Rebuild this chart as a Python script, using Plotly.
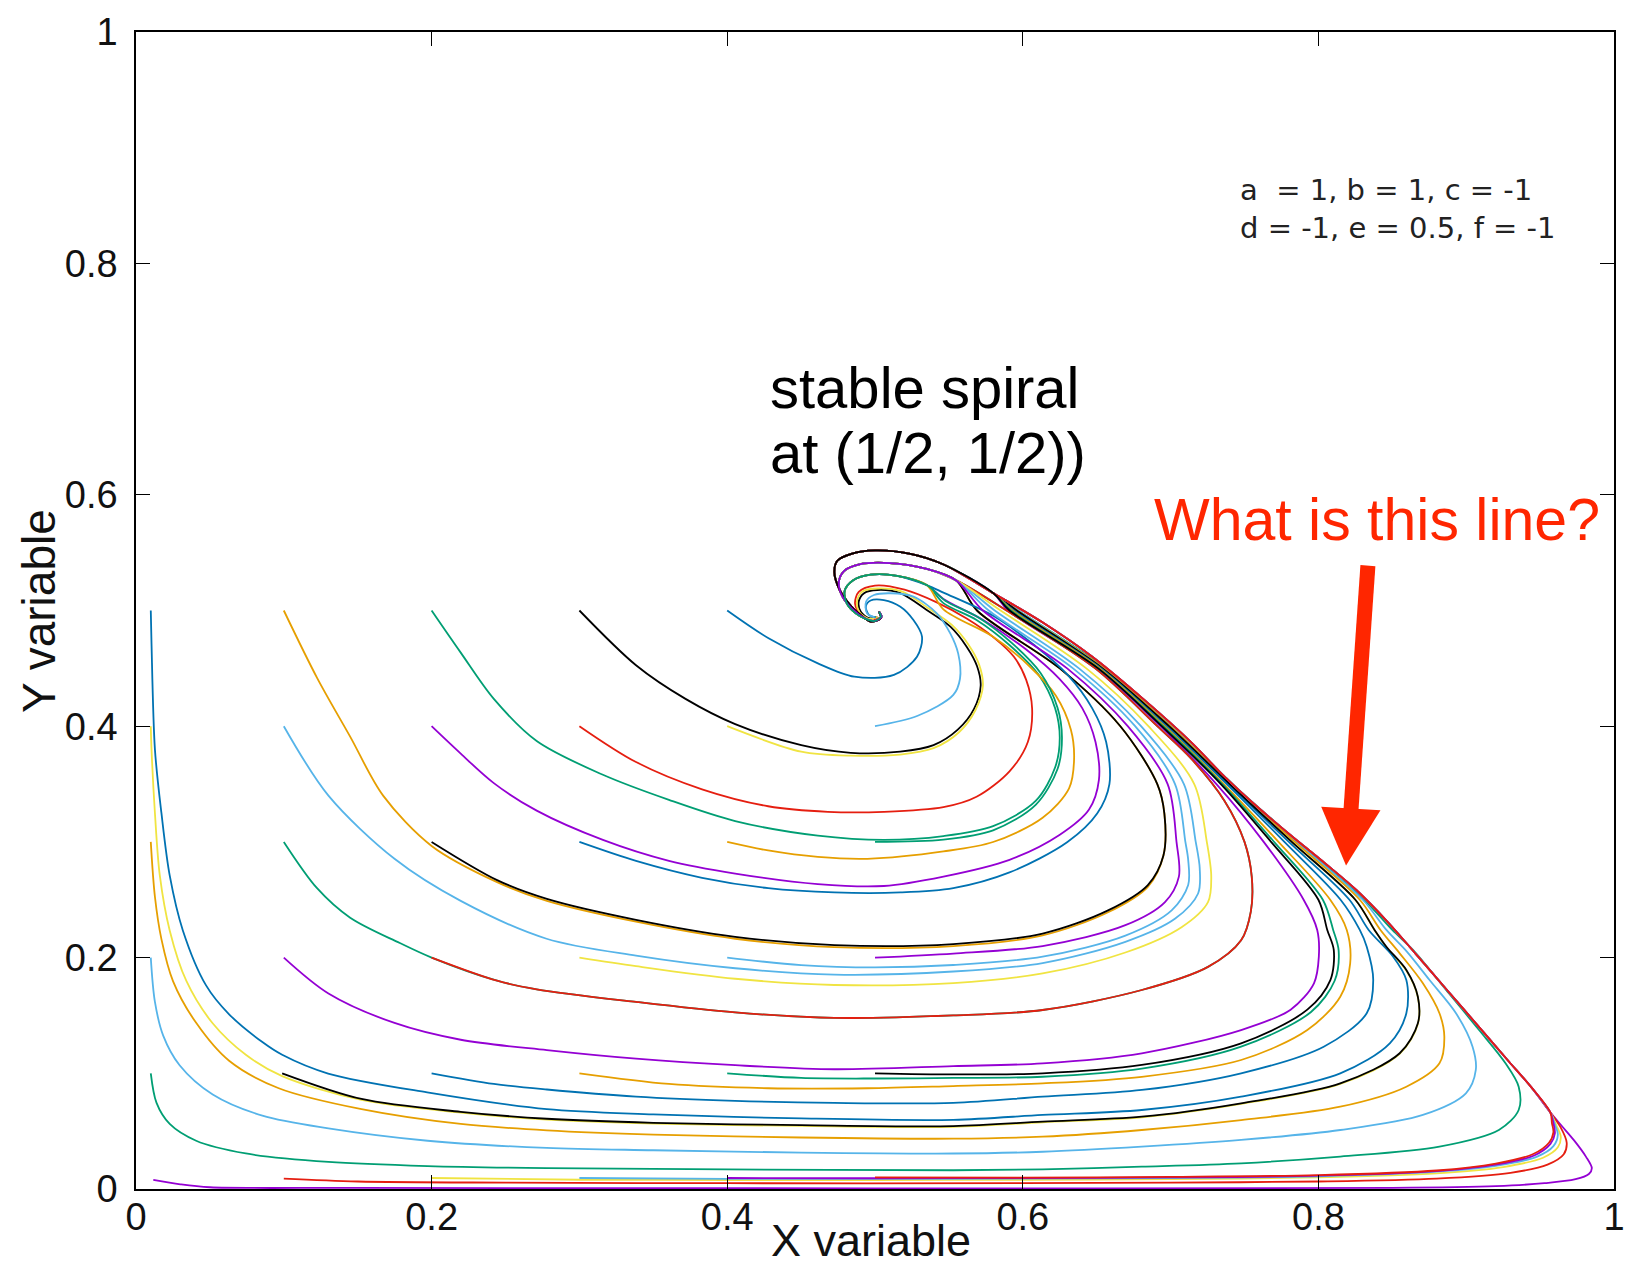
import plotly.graph_objects as go

# ---------------- colours (gnuplot default line types) ----------------
PURPLE = '#9400D3'; GREEN = '#009E73'; LBLUE = '#56B4E9'; ORANGE = '#E69F00'
YELLOW = '#F0E442'; BLUE = '#0072B2'; RED = '#E51E10'; BLACK = '#000000'

# ---------------- axis ticks ----------------
tick_vals = [0, 0.2, 0.4, 0.6, 0.8, 1.0]
tick_text = ['0', '0.2', '0.4', '0.6', '0.8', '1']

# ---------------- shared end pieces ----------------
# outer edge of the bundle running up the hypotenuse ("What is this line?")
cp_x = [0.957, 0.944, 0.929, 0.908, 0.887, 0.866, 0.846, 0.826, 0.804, 0.781, 0.758, 0.736, 0.714, 0.681, 0.647, 0.613]
cp_y = [0.066, 0.088, 0.110, 0.141, 0.172, 0.203, 0.232, 0.258, 0.282, 0.306, 0.331, 0.357, 0.386, 0.424, 0.460, 0.490]
# spiral endings
tailA_x = [0.580, 0.546, 0.524, 0.500, 0.484, 0.4745, 0.4725, 0.476, 0.483, 0.490, 0.497, 0.504, 0.5027]
tailA_y = [0.515, 0.540, 0.549, 0.552, 0.549, 0.543, 0.533, 0.518, 0.505, 0.4965, 0.4905, 0.4935, 0.499]
tailB_x = [0.555, 0.535, 0.510, 0.490, 0.479, 0.4755, 0.478, 0.485, 0.493, 0.500, 0.5045, 0.5027]
tailB_y = [0.526, 0.536, 0.541, 0.540, 0.534, 0.524, 0.512, 0.501, 0.4935, 0.491, 0.4945, 0.499]
tailC_x = [0.535, 0.515, 0.497, 0.485, 0.4795, 0.481, 0.487, 0.494, 0.500, 0.504, 0.5027]
tailC_y = [0.522, 0.530, 0.531, 0.526, 0.517, 0.506, 0.4975, 0.4925, 0.491, 0.4948, 0.499]

# ---------------- trajectories: start x0 = 0.01 ----------------
t001_001_x = [0.0117, 0.030, 0.050, 0.150, 0.500, 0.850, 0.920, 0.953, 0.974, 0.983, 0.985, 0.981, 0.973, 0.965]
t001_001_y = [0.0078, 0.004, 0.0015, 0.001, 0.0006, 0.001, 0.0025, 0.005, 0.0085, 0.013, 0.018, 0.028, 0.042, 0.054]
t001_01_x = [0.01, 0.0139, 0.0228, 0.0407, 0.0743, 0.1302, 0.1973, 0.2778, 0.4, 0.553, 0.6134, 0.6805, 0.7477, 0.8148,
             0.8819, 0.9221, 0.9355, 0.9355, 0.9266, 0.9087, 0.8864, 0.864, 0.850, 0.831, 0.786, 0.742, 0.702, 0.656, 0.597]
t001_01_y = [0.1, 0.0744, 0.0562, 0.0417, 0.0307, 0.0234, 0.0198, 0.018, 0.017, 0.0162, 0.017, 0.0193, 0.0222, 0.028,
             0.0366, 0.051, 0.0683, 0.0884, 0.1086, 0.1374, 0.172, 0.2066, 0.2239, 0.25, 0.30, 0.35, 0.40, 0.45, 0.50]
t001_02_x = [0.01, 0.0128, 0.0184, 0.0295, 0.0519, 0.0855, 0.1302, 0.1973, 0.2778, 0.35, 0.45, 0.553, 0.6134, 0.6805,
             0.7477, 0.8148, 0.8707, 0.8998, 0.9065, 0.9043, 0.8931, 0.8752, 0.86, 0.846, 0.830, 0.785, 0.741, 0.701, 0.655, 0.597]
t001_02_y = [0.2, 0.1617, 0.1326, 0.107, 0.0817, 0.0634, 0.0524, 0.0417, 0.0355, 0.0335, 0.0315, 0.0307, 0.0322, 0.0366,
             0.0424, 0.051, 0.064, 0.0827, 0.1029, 0.123, 0.1519, 0.1806, 0.205, 0.2239, 0.25, 0.30, 0.35, 0.40, 0.45, 0.50]
t001_03_x = [0.01, 0.0128, 0.0172, 0.0251, 0.0407, 0.063, 0.0966, 0.1526, 0.2197, 0.278, 0.35, 0.45, 0.553, 0.6134,
             0.6805, 0.7477, 0.8148, 0.8595, 0.8819, 0.8852, 0.8819, 0.8707, 0.855, 0.842, 0.828, 0.784, 0.741, 0.700, 0.655, 0.596]
t001_03_y = [0.3, 0.2526, 0.216, 0.1795, 0.1436, 0.1108, 0.0871, 0.069, 0.0562, 0.0507, 0.047, 0.0445, 0.0435, 0.0452,
             0.051, 0.0596, 0.0711, 0.0884, 0.1086, 0.1316, 0.1519, 0.1778, 0.2037, 0.2239, 0.25, 0.30, 0.35, 0.40, 0.45, 0.50]
t001_04_x = [0.01, 0.0105, 0.0128, 0.0161, 0.0228, 0.034, 0.052, 0.0743, 0.0989, 0.1526, 0.2197, 0.278, 0.35, 0.45, 0.553,
             0.6134, 0.6805, 0.7477, 0.8148, 0.855, 0.8673, 0.8673, 0.8595, 0.846, 0.838, 0.825, 0.782, 0.740, 0.699, 0.654, 0.596]
t001_04_y = [0.4, 0.38, 0.325, 0.271, 0.2235, 0.18, 0.143, 0.116, 0.0975, 0.077, 0.066, 0.060, 0.0565, 0.0545, 0.0538,
             0.0577, 0.062, 0.0736, 0.0908, 0.1168, 0.1427, 0.1657, 0.1888, 0.2089, 0.2239, 0.25, 0.30, 0.35, 0.40, 0.45, 0.50]
t001_05_x = [0.01, 0.0105, 0.0128, 0.0172, 0.0228, 0.0317, 0.0474, 0.063, 0.0855, 0.0989, 0.130, 0.197, 0.278, 0.35, 0.45,
             0.553, 0.6134, 0.6805, 0.7477, 0.8148, 0.8483, 0.8595, 0.8595, 0.8506, 0.834, 0.821, 0.780, 0.739, 0.698, 0.653, 0.595]
t001_05_y = [0.5, 0.471, 0.38, 0.325, 0.271, 0.2235, 0.176, 0.151, 0.127, 0.116, 0.0998, 0.0835, 0.069, 0.0645, 0.061,
             0.0598, 0.064, 0.0683, 0.0798, 0.100, 0.1259, 0.1519, 0.1806, 0.2008, 0.2239, 0.25, 0.30, 0.35, 0.40, 0.45, 0.50]

# ---------------- x0 = 0.1 ----------------
t01_001_x = [0.1, 0.15, 0.25, 0.4, 0.6, 0.7, 0.8, 0.88, 0.93, 0.955, 0.966, 0.968, 0.964]
t01_001_y = [0.009, 0.0065, 0.0055, 0.005, 0.005, 0.0055, 0.0065, 0.009, 0.014, 0.021, 0.030, 0.040, 0.053]
t01_01_x = [0.0989, 0.1526, 0.2197, 0.278, 0.35, 0.45, 0.553, 0.6134, 0.6805, 0.7477, 0.8148, 0.855, 0.8673, 0.8673,
            0.8595, 0.846, 0.838, 0.825, 0.782, 0.740, 0.699, 0.654, 0.596]
t01_01_y = [0.1, 0.0778, 0.0667, 0.0607, 0.0572, 0.0552, 0.0544, 0.0582, 0.0625, 0.0741, 0.0913, 0.1173, 0.1432, 0.1662,
            0.1893, 0.2094, 0.2239, 0.25, 0.30, 0.35, 0.40, 0.45, 0.50]
t01_02_x = [0.1, 0.1302, 0.1749, 0.2197, 0.278, 0.3383, 0.4054, 0.4725, 0.553, 0.6134, 0.6805, 0.7477, 0.7812, 0.797,
            0.8003, 0.7992, 0.790, 0.763, 0.731, 0.693, 0.650, 0.590]
t01_02_y = [0.2, 0.169, 0.1435, 0.129, 0.12, 0.1126, 0.107, 0.1035, 0.1062, 0.1086, 0.1173, 0.1374, 0.155, 0.1778,
            0.2008, 0.2239, 0.25, 0.30, 0.35, 0.40, 0.45, 0.50]
t01_03_x = [0.1, 0.1225, 0.1449, 0.1785, 0.2, 0.2443, 0.2711, 0.3383, 0.4054, 0.4725, 0.553, 0.6134, 0.6805, 0.7253,
            0.7477, 0.7543, 0.7549, 0.750, 0.7365, 0.7141, 0.691, 0.649, 0.589]
t01_03_y = [0.3, 0.26, 0.2345, 0.2126, 0.2, 0.18, 0.1726, 0.1617, 0.1526, 0.1479, 0.150, 0.1547, 0.172, 0.192,
            0.215, 0.24, 0.27, 0.30, 0.3354, 0.3717, 0.40, 0.45, 0.50]
t01_04_x = [0.1, 0.1302, 0.1749, 0.2197, 0.2778, 0.3383, 0.4054, 0.4725, 0.553, 0.6134, 0.6694, 0.7029, 0.7186, 0.7197,
            0.717, 0.709, 0.680, 0.638, 0.581]
t01_04_y = [0.4, 0.34, 0.2854, 0.249, 0.2163, 0.2017, 0.1908, 0.1853, 0.188, 0.1953, 0.2136, 0.2335, 0.2554, 0.2772,
            0.30, 0.35, 0.40, 0.45, 0.50]
t01_05_x = [0.1, 0.1225, 0.1449, 0.1672, 0.2, 0.2443, 0.278, 0.3383, 0.4054, 0.4725, 0.553, 0.6134, 0.6577, 0.6846,
            0.6951, 0.6958, 0.691, 0.666, 0.625, 0.569]
t01_05_y = [0.5, 0.4418, 0.391, 0.34, 0.2965, 0.2652, 0.249, 0.231, 0.2163, 0.209, 0.21, 0.2192, 0.2392, 0.2612,
            0.288, 0.3245, 0.35, 0.40, 0.45, 0.50]

# ---------------- x0 = 0.2 ----------------
t02_001_x = [0.2, 0.3, 0.4, 0.5, 0.6, 0.7, 0.8, 0.88, 0.925, 0.952, 0.962, 0.964, 0.961]
t02_001_y = [0.0095, 0.008, 0.0078, 0.0078, 0.008, 0.0085, 0.010, 0.0135, 0.019, 0.027, 0.036, 0.045, 0.055]
t02_01_x = [0.2, 0.2421, 0.278, 0.3383, 0.4054, 0.4725, 0.553, 0.6134, 0.6805, 0.7477, 0.8036, 0.8327, 0.8371, 0.8327,
            0.828, 0.815, 0.777, 0.738, 0.697, 0.653, 0.594]
t02_01_y = [0.1, 0.0908, 0.086, 0.0799, 0.0762, 0.0744, 0.0744, 0.0798, 0.0856, 0.1, 0.123, 0.1519, 0.1806, 0.2094,
            0.2239, 0.25, 0.30, 0.35, 0.40, 0.45, 0.50]
t02_02_x = [0.2, 0.2443, 0.2711, 0.3383, 0.4054, 0.4725, 0.553, 0.6134, 0.6805, 0.7253, 0.7477, 0.7543, 0.7549, 0.750,
            0.7365, 0.7141, 0.691, 0.649, 0.589]
t02_02_y = [0.2, 0.18, 0.1726, 0.1617, 0.1526, 0.1479, 0.150, 0.1547, 0.172, 0.192, 0.215, 0.24, 0.27, 0.30,
            0.3354, 0.3717, 0.40, 0.45, 0.50]
t02_03_x = [0.2, 0.2443, 0.278, 0.3383, 0.4054, 0.4725, 0.553, 0.6134, 0.6577, 0.6846, 0.6951, 0.6958, 0.691, 0.666,
            0.625, 0.569]
t02_03_y = [0.3, 0.267, 0.2508, 0.2327, 0.218, 0.2108, 0.2117, 0.2208, 0.2408, 0.2627, 0.288, 0.3245, 0.35, 0.40,
            0.45, 0.50]
t02_04_x = [0.2, 0.2197, 0.2421, 0.2711, 0.3159, 0.3606, 0.4054, 0.4613, 0.506, 0.5463, 0.591, 0.6248, 0.6448, 0.6515,
            0.6492, 0.6403, 0.6248, 0.6023, 0.5732, 0.5463]
t02_04_y = [0.4, 0.3763, 0.3508, 0.327, 0.3017, 0.2836, 0.2726, 0.2635, 0.2619, 0.27, 0.2845, 0.306, 0.328, 0.3536,
            0.3863, 0.4154, 0.4409, 0.4663, 0.4918, 0.51]
t02_05_x = [0.2, 0.2197, 0.2421, 0.2711, 0.3159, 0.3606, 0.4054, 0.4613, 0.506, 0.5463, 0.5799, 0.6087, 0.6219, 0.625,
            0.6219, 0.6107, 0.5911, 0.5687, 0.5463]
t02_05_y = [0.5, 0.4636, 0.4236, 0.3872, 0.358, 0.3363, 0.318, 0.3054, 0.3017, 0.305, 0.3136, 0.3354, 0.3645, 0.39,
            0.4154, 0.4445, 0.47, 0.4918, 0.5064]

# ---------------- x0 = 0.3 ----------------
t03_001_x = [0.3, 0.4, 0.5, 0.6, 0.7, 0.8, 0.88, 0.92, 0.948, 0.959, 0.962, 0.960]
t03_001_y = [0.0095, 0.0088, 0.0088, 0.009, 0.0095, 0.011, 0.015, 0.020, 0.028, 0.037, 0.047, 0.056]
t03_01_x = [0.3, 0.3606, 0.4277, 0.4949, 0.553, 0.6134, 0.6805, 0.7477, 0.7925, 0.8148, 0.8215, 0.8192, 0.808, 0.773,
            0.736, 0.696, 0.652, 0.593]
t03_01_y = [0.1, 0.0908, 0.0871, 0.0871, 0.089, 0.0913, 0.097, 0.1115, 0.1374, 0.1662, 0.195, 0.2239, 0.25, 0.30,
            0.35, 0.40, 0.45, 0.50]
t03_02_x = [0.3, 0.3383, 0.4054, 0.4725, 0.553, 0.6134, 0.6694, 0.7074, 0.7253, 0.7275, 0.7245, 0.716, 0.685, 0.643, 0.585]
t03_02_y = [0.2, 0.1926, 0.1817, 0.1763, 0.178, 0.1863, 0.2044, 0.2263, 0.248, 0.27, 0.30, 0.35, 0.40, 0.45, 0.50]
t03_03_x = [0.3, 0.3383, 0.383, 0.4277, 0.4725, 0.5172, 0.553, 0.591, 0.6302, 0.6503, 0.6586, 0.6564, 0.647, 0.6302,
            0.6079, 0.5799, 0.5463]
t03_03_y = [0.3, 0.2836, 0.269, 0.26, 0.2563, 0.2563, 0.26, 0.2736, 0.2999, 0.3245, 0.35, 0.3863, 0.4154, 0.4445,
            0.47, 0.4954, 0.5155]
t03_04_x = [0.3, 0.3383, 0.383, 0.4277, 0.4681, 0.506, 0.5463, 0.5687, 0.591, 0.6034, 0.6063, 0.6023, 0.594, 0.58,
            0.562, 0.5418, 0.52, 0.50, 0.489, 0.4865, 0.4905, 0.4975, 0.5035]
t03_04_y = [0.4, 0.369, 0.3454, 0.3308, 0.326, 0.326, 0.33, 0.339, 0.361, 0.3863, 0.4154, 0.44, 0.46, 0.477,
            0.493, 0.507, 0.518, 0.5215, 0.516, 0.506, 0.4965, 0.4915, 0.494]
t03_05_x = [0.3, 0.3383, 0.3718, 0.4054, 0.4501, 0.4836, 0.517, 0.5396, 0.556, 0.567, 0.5715, 0.569, 0.562, 0.551,
            0.535, 0.517, 0.5016, 0.4926, 0.489, 0.4904, 0.496, 0.5016]
t03_05_y = [0.5, 0.4527, 0.4236, 0.4018, 0.3836, 0.377, 0.378, 0.3836, 0.397, 0.415, 0.435, 0.452, 0.4687, 0.486,
            0.5004, 0.515, 0.5177, 0.515, 0.5078, 0.499, 0.4934, 0.4946]

# ---------------- x0 = 0.4 ----------------
t04_001_x = [0.4, 0.5, 0.6, 0.7, 0.8, 0.88, 0.92, 0.946, 0.957, 0.960, 0.959]
t04_001_y = [0.0095, 0.0093, 0.0095, 0.010, 0.0115, 0.0155, 0.021, 0.029, 0.039, 0.048, 0.057]
t04_01_x = [0.4, 0.45, 0.5, 0.553, 0.6134, 0.6805, 0.7477, 0.795, 0.811, 0.8137, 0.81, 0.803, 0.770, 0.735, 0.695, 0.651, 0.592]
t04_01_y = [0.1, 0.096, 0.0955, 0.096, 0.097, 0.104, 0.123, 0.153, 0.18, 0.206, 0.2239, 0.25, 0.30, 0.35, 0.40, 0.45, 0.50]
t04_02_x = [0.4, 0.45, 0.5, 0.553, 0.6134, 0.6694, 0.7007, 0.7119, 0.7119, 0.710, 0.703, 0.676, 0.634, 0.577]
t04_02_y = [0.2, 0.1935, 0.1915, 0.1936, 0.2008, 0.219, 0.2408, 0.2627, 0.2845, 0.30, 0.35, 0.40, 0.45, 0.50]
t04_03_x = [0.4, 0.4277, 0.4613, 0.4949, 0.5463, 0.5799, 0.6134, 0.6313, 0.6347, 0.6325, 0.6224, 0.6045, 0.5799, 0.5463]
t04_03_y = [0.3, 0.2926, 0.287, 0.2854, 0.2918, 0.2999, 0.3208, 0.3463, 0.3717, 0.3972, 0.4263, 0.4518, 0.4773, 0.501]
t04_04_x = [0.4, 0.4501, 0.4836, 0.517, 0.5396, 0.557, 0.568, 0.573, 0.5705, 0.5635, 0.552, 0.536, 0.518, 0.5016,
            0.4915, 0.4878, 0.4895, 0.4958, 0.5016]
t04_04_y = [0.4, 0.378, 0.3745, 0.3755, 0.381, 0.395, 0.414, 0.435, 0.453, 0.47, 0.4875, 0.502, 0.5165, 0.519,
            0.5165, 0.508, 0.4985, 0.4928, 0.4946]
t04_05_x = [0.4, 0.428, 0.461, 0.486, 0.5128, 0.5284, 0.5318, 0.526, 0.5172, 0.506, 0.497, 0.4938, 0.496, 0.5005]
t04_05_y = [0.5, 0.476, 0.4545, 0.4428, 0.4443, 0.46, 0.4774, 0.4918, 0.5033, 0.509, 0.5086, 0.5033, 0.496, 0.4942]

# ---------------- x0 = 0.5 ----------------
t05_001_x = [0.5, 0.6, 0.7, 0.8, 0.88, 0.92, 0.945, 0.956, 0.959, 0.958]
t05_001_y = [0.01, 0.0098, 0.0105, 0.012, 0.016, 0.022, 0.030, 0.040, 0.049, 0.057]
t05_01_x = [0.5, 0.553, 0.6134, 0.6805, 0.7477, 0.7925, 0.8081, 0.8104, 0.806, 0.800, 0.768, 0.734, 0.694, 0.651, 0.591]
t05_01_y = [0.1, 0.099, 0.100, 0.1072, 0.1259, 0.155, 0.1806, 0.2066, 0.2239, 0.25, 0.30, 0.35, 0.40, 0.45, 0.50]
t05_02_x = [0.5, 0.553, 0.6134, 0.6694, 0.6962, 0.7056, 0.704, 0.698, 0.671, 0.630, 0.573]
t05_02_y = [0.2, 0.2035, 0.21, 0.228, 0.248, 0.27, 0.30, 0.35, 0.40, 0.45, 0.50]
t05_03_x = [0.5, 0.5463, 0.5799, 0.6087, 0.6235, 0.6265, 0.6235, 0.612, 0.5925, 0.57, 0.5475]
t05_03_y = [0.3, 0.302, 0.31, 0.332, 0.363, 0.39, 0.416, 0.446, 0.472, 0.494, 0.5085]
t05_04_x = [0.5, 0.5289, 0.553, 0.5575, 0.5563, 0.551, 0.5418, 0.526, 0.5105, 0.4993, 0.494, 0.4946, 0.4998]
t05_04_y = [0.4, 0.409, 0.427, 0.441, 0.4627, 0.48, 0.4976, 0.512, 0.5149, 0.5134, 0.5078, 0.4976, 0.494]

A = (tailA_x, tailA_y); B = (tailB_x, tailB_y); C = (tailC_x, tailC_y); CP = (cp_x, cp_y)

# (body x, body y, colour, [end pieces]) in gnuplot plotting order
curves = [
    (t001_001_x, t001_001_y, PURPLE, [CP, A]),
    (t001_01_x, t001_01_y, GREEN, [A]),
    (t001_02_x, t001_02_y, LBLUE, [A]),
    (t001_03_x, t001_03_y, ORANGE, [A]),
    (t001_04_x, t001_04_y, YELLOW, [A]),
    (t001_05_x, t001_05_y, BLUE, [A]),
    (t01_001_x, t01_001_y, RED, [CP, A]),
    (t01_01_x, t01_01_y, BLACK, [A]),
    (t01_02_x, t01_02_y, PURPLE, [A]),
    (t01_03_x, t01_03_y, GREEN, [B]),
    (t01_04_x, t01_04_y, LBLUE, [B]),
    (t01_05_x, t01_05_y, ORANGE, [B]),
    (t02_001_x, t02_001_y, YELLOW, [CP, A]),
    (t02_01_x, t02_01_y, BLUE, [A]),
    (t02_02_x, t02_02_y, RED, [B]),
    (t02_03_x, t02_03_y, BLACK, [B]),
    (t02_04_x, t02_04_y, PURPLE, [C]),
    (t02_05_x, t02_05_y, GREEN, [C]),
    (t03_001_x, t03_001_y, LBLUE, [CP, A]),
    (t03_01_x, t03_01_y, ORANGE, [A]),
    (t03_02_x, t03_02_y, YELLOW, [B]),
    (t03_03_x, t03_03_y, BLUE, [C]),
    (t03_04_x, t03_04_y, RED, []),
    (t03_05_x, t03_05_y, BLACK, []),
    (t04_001_x, t04_001_y, PURPLE, [CP, A]),
    (t04_01_x, t04_01_y, GREEN, [A]),
    (t04_02_x, t04_02_y, LBLUE, [B]),
    (t04_03_x, t04_03_y, ORANGE, [C]),
    (t04_04_x, t04_04_y, YELLOW, []),
    (t04_05_x, t04_05_y, BLUE, []),
    (t05_001_x, t05_001_y, RED, [CP, A]),
    (t05_01_x, t05_01_y, BLACK, [A]),
    (t05_02_x, t05_02_y, PURPLE, [B]),
    (t05_03_x, t05_03_y, GREEN, [C]),
    (t05_04_x, t05_04_y, LBLUE, []),
]

fig = go.Figure()
for bx, by, col, ends in curves:
    xs = list(bx); ys = list(by)
    for ex, ey in ends:
        xs += ex; ys += ey
    fig.add_trace(go.Scatter(x=xs, y=ys, mode='lines', hoverinfo='skip', showlegend=False,
                             line=dict(color=col, width=1.8, shape='spline', smoothing=0.9)))

FONT = 'Liberation Sans, Arial, Helvetica, sans-serif'
axis_common = dict(range=[0, 1], tickvals=tick_vals, ticktext=tick_text, ticks='inside', ticklen=14,
                   tickwidth=1.3, tickcolor='black', showline=True, linecolor='black', linewidth=1.5,
                   mirror='ticks', showgrid=False, zeroline=False,
                   tickfont=dict(family=FONT, size=38, color='#111'))

fig.update_layout(
    width=1626, height=1269,
    margin=dict(l=136, r=1, t=32, b=80),
    paper_bgcolor='white', plot_bgcolor='white', showlegend=False,
    xaxis=dict(**axis_common, ticklabelstandoff=-6, ticklabeloverflow='allow'),
    yaxis=dict(**axis_common, ticklabelstandoff=9, ticklabeloverflow='allow'),
)

ann = []
ann.append(dict(text='X variable', xref='paper', yref='paper', x=0.497, y=-0.0683, xanchor='center', yanchor='bottom',
                showarrow=False, font=dict(family=FONT, size=45, color='#111')))
ann.append(dict(text='Y variable', xref='paper', yref='paper', x=-0.066, y=0.5, xanchor='center', yanchor='middle',
                textangle=-90, showarrow=False, font=dict(family=FONT, size=46, color='#111')))
ann.append(dict(text='stable spiral', xref='x', yref='y', x=0.4278, y=0.6925, xanchor='left', yanchor='middle',
                showarrow=False, font=dict(family=FONT, size=58, color='black')))
ann.append(dict(text='at (1/2, 1/2))', xref='x', yref='y', x=0.4278, y=0.6365, xanchor='left', yanchor='middle',
                showarrow=False, font=dict(family=FONT, size=58, color='black')))
ann.append(dict(text='What is this line?', xref='x', yref='y', x=0.6874, y=0.578, xanchor='left', yanchor='middle',
                showarrow=False, font=dict(family=FONT, size=59, color='#FF2600')))
ann.append(dict(text='a\u00a0 = 1, b = 1, c = -1<br>d = -1, e = 0.5, f = -1', xref='x', yref='y',
                x=0.7455, y=0.847, xanchor='left', yanchor='middle', align='left', showarrow=False,
                font=dict(family='DejaVu Sans, Liberation Sans, sans-serif', size=29, color='#222')))
fig.update_layout(annotations=ann)

# red arrow
fig.add_shape(type='line', xref='x', yref='y', x0=0.8335, y0=0.5388, x1=0.8219, y1=0.325,
              line=dict(color='#FF2600', width=15))
fig.add_shape(type='path', xref='x', yref='y', path='M 0.8019 0.3304 L 0.8420 0.3274 L 0.8187 0.2795 Z',
              fillcolor='#FF2600', line=dict(width=0))

fig.write_html('out.html')
